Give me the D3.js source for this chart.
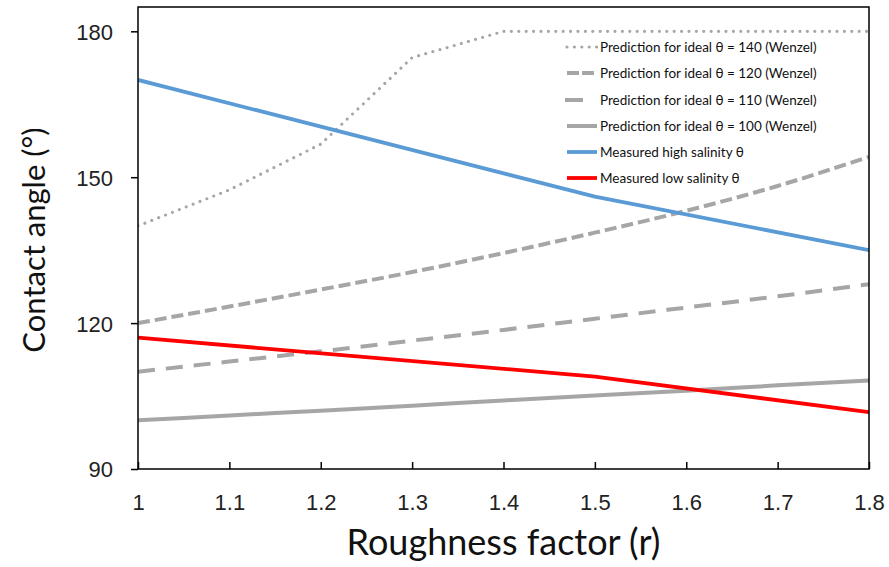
<!DOCTYPE html>
<html>
<head>
<meta charset="utf-8">
<script src="https://cdn.jsdelivr.net/npm/d3@7"></script>
<style>
  html, body { margin: 0; padding: 0; background: #fff; }
  svg { display: block; font-family: Lato, "Open Sans", sans-serif; }
</style>
</head>
<body>
<svg id="chart" width="889" height="567"></svg>
<script>
// ---- data ----
const roughness = [1, 1.1, 1.2, 1.3, 1.4, 1.5, 1.6, 1.7, 1.8];
const wenzel140 = [140, 147.4, 156.8, 174.6, 180, 180, 180, 180, 180];
const wenzel120 = [120, 123.4, 126.9, 130.5, 134.4, 138.6, 143.1, 148.2, 154.2];
const wenzel110 = [110, 112.1, 114.2, 116.4, 118.6, 120.9, 123.2, 125.5, 128.0];
const wenzel100 = [100, 101.0, 102.0, 103.0, 104.1, 105.1, 106.1, 107.2, 108.2];
const measuredR = [1, 1.5, 1.8];
const highSalinity = [170, 146, 135];
const lowSalinity = [117, 109, 101.7];
const xTicks = [1, 1.1, 1.2, 1.3, 1.4, 1.5, 1.6, 1.7, 1.8];
const yTicks = [90, 120, 150, 180];
const seriesNames = [
  "Prediction for ideal θ = 140 (Wenzel)",
  "Prediction for ideal θ = 120 (Wenzel)",
  "Prediction for ideal θ = 110 (Wenzel)",
  "Prediction for ideal θ = 100 (Wenzel)",
  "Measured high salinity θ",
  "Measured low salinity θ"
];

// ---- layout ----
const svg = d3.select("#chart");
const L = 138, R = 869, T = 7, B = 469;
const x = d3.scaleLinear().domain([1, 1.8]).range([L, R]);
const y = d3.scaleLinear().domain([90, 185]).range([B, T]);

const styles = [
  { color: "#a6a6a6", width: 3.2, dash: "0 7.4", cap: "round", curve: d3.curveLinear, xs: roughness, ys: wenzel140 },
  { color: "#a6a6a6", width: 4, dash: "12 5", cap: "butt", curve: d3.curveMonotoneX, xs: roughness, ys: wenzel120 },
  { color: "#a6a6a6", width: 4, dash: "17 11", cap: "butt", curve: d3.curveMonotoneX, xs: roughness, ys: wenzel110 },
  { color: "#a6a6a6", width: 4, dash: null, cap: "butt", curve: d3.curveMonotoneX, xs: roughness, ys: wenzel100 },
  { color: "#5b9bd5", width: 3.8, dash: null, cap: "butt", curve: d3.curveLinear, xs: measuredR, ys: highSalinity },
  { color: "#ff0000", width: 3.8, dash: null, cap: "butt", curve: d3.curveLinear, xs: measuredR, ys: lowSalinity }
];

// axes
const yAxis = d3.axisLeft(y).tickValues(yTicks).tickSize(7).tickPadding(18);
const gy = svg.append("g").attr("transform", `translate(${L},0)`).call(yAxis);
gy.select(".domain").remove();
gy.selectAll("line").attr("stroke", "#000").attr("stroke-width", 1.5);
gy.selectAll("text").attr("font-size", 22).attr("fill", "#222").attr("dy", "0.36em");

const xAxis = d3.axisBottom(x).tickValues(xTicks).tickSize(-7).tickPadding(0).tickFormat(d3.format("~g"));
const gx = svg.append("g").attr("transform", `translate(0,${B})`).call(xAxis);
gx.select(".domain").remove();
gx.selectAll("line").attr("stroke", "#000").attr("stroke-width", 1.5);
gx.selectAll("text").attr("font-size", 22).attr("fill", "#222").attr("y", 41).attr("dy", 0);

// lines
svg.append("clipPath").attr("id", "clip").append("rect")
  .attr("x", L).attr("y", T).attr("width", R - L).attr("height", B - T);

styles.forEach(s => {
  const pts = s.xs.map((v, i) => [v, s.ys[i]]);
  const gen = d3.line().x(d => x(d[0])).y(d => y(d[1])).curve(s.curve);
  svg.append("path").datum(pts)
    .attr("d", gen)
    .attr("fill", "none")
    .attr("stroke", s.color)
    .attr("stroke-width", s.width)
    .attr("stroke-linecap", s.cap)
    .attr("stroke-linejoin", "round")
    .attr("stroke-dasharray", s.dash)
    .attr("clip-path", "url(#clip)");
});

// frame
svg.append("rect").attr("x", L).attr("y", T).attr("width", R - L).attr("height", B - T)
  .attr("fill", "none").attr("stroke", "#000").attr("stroke-width", 1.5);

// legend
const legRows = [47, 73, 100, 126, 152, 178];
const leg = svg.append("g");
styles.forEach((s, i) => {
  const yy = legRows[i];
  const x1 = i === 2 ? 565 : 567;
  const x2 = i === 2 ? 583 : 597;
  leg.append("line").attr("x1", x1).attr("x2", x2).attr("y1", yy).attr("y2", yy)
    .attr("stroke", s.color).attr("stroke-width", s.width)
    .attr("stroke-linecap", s.cap).attr("stroke-dasharray", i === 1 ? "12 3" : (i === 2 ? null : s.dash));
  leg.append("text").attr("x", 600).attr("y", yy).attr("dy", "0.35em")
    .attr("font-size", 13.5).attr("fill", "#111").text(seriesNames[i]);
});

// axis titles
svg.append("text").attr("x", (L + R) / 2).attr("y", 555).attr("text-anchor", "middle")
  .attr("font-size", 36).attr("fill", "#111").text("Roughness factor (r)");
svg.append("text").attr("transform", `translate(45,240) rotate(-90)`).attr("text-anchor", "middle")
  .attr("font-size", 31).attr("fill", "#111").text("Contact angle (°)");
</script>
</body>
</html>
